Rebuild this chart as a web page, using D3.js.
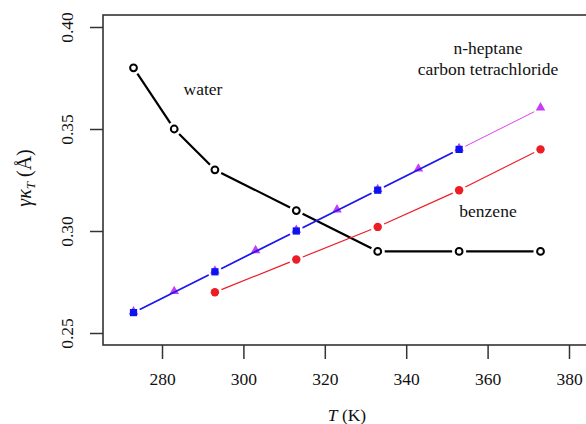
<!DOCTYPE html>
<html>
<head>
<meta charset="utf-8" />
<title>gamma kappa_T vs temperature</title>
<script src="https://d3js.org/d3.v7.min.js"></script>
<style>
  body { margin: 0; background: #fff; }
  svg { display: block; font-family: "Liberation Serif", "DejaVu Serif", serif; }
</style>
</head>
<body>
<div id="chart"></div>
<script>
// temperatures (K) and values for each liquid
var waterT = [273, 283, 293, 313, 333, 353, 373];
var waterV = [0.38, 0.35, 0.33, 0.31, 0.29, 0.29, 0.29];

var heptaneT = [273, 283, 293, 303, 313, 323, 333, 343, 353, 373];
var heptaneV = [0.26, 0.27, 0.28, 0.29, 0.30, 0.31, 0.32, 0.33, 0.34, 0.36];

var ccl4T = [273, 293, 313, 333, 353];
var ccl4V = [0.26, 0.28, 0.30, 0.32, 0.34];

var benzeneT = [293, 313, 333, 353, 373];
var benzeneV = [0.27, 0.286, 0.302, 0.32, 0.34];

var xTicks = [280, 300, 320, 340, 360, 380];
var yTicks = [0.25, 0.30, 0.35, 0.40];

var width = 586, height = 424;
var boxLeft = 103, boxTop = 15, boxBottom = 345, boxRight = 592;
var serif = "Liberation Serif";

var x = d3.scaleLinear().domain([280, 380]).range([162, 569]);
var y = d3.scaleLinear().domain([0.25, 0.40]).range([333, 27]);

var svg = d3.select("#chart").append("svg")
  .attr("width", width)
  .attr("height", height);

function zip(ts, vs) {
  return ts.map(function (t, i) { return { x: x(t), y: y(vs[i]) }; });
}

// R style type="b": segments stop short of each point
function gappedLines(g, pts, gap, color, lw) {
  for (var i = 0; i < pts.length - 1; i++) {
    var a = pts[i], b = pts[i + 1];
    var dx = b.x - a.x, dy = b.y - a.y;
    var len = Math.sqrt(dx * dx + dy * dy);
    if (len <= 2 * gap) continue;
    var ux = dx / len, uy = dy / len;
    g.append("line")
      .attr("x1", a.x + ux * gap).attr("y1", a.y + uy * gap)
      .attr("x2", b.x - ux * gap).attr("y2", b.y - uy * gap)
      .attr("stroke", color)
      .attr("stroke-width", lw);
  }
}

// axes
var xAxis = d3.axisBottom(x).tickValues(xTicks).tickSize(14).tickPadding(14)
  .tickFormat(d3.format("d"));
var gx = svg.append("g").attr("transform", "translate(0," + boxBottom + ")").call(xAxis);
gx.attr("font-family", serif);
gx.select(".domain").remove();
gx.selectAll("line").attr("stroke", "#333").attr("stroke-width", 1.5);
gx.selectAll("text").attr("font-size", 17.5).attr("fill", "#111");

var yAxis = d3.axisLeft(y).tickValues(yTicks).tickSize(13).tickPadding(0)
  .tickFormat(d3.format(".2f"));
var gy = svg.append("g").attr("transform", "translate(" + boxLeft + ",0)").call(yAxis);
gy.attr("font-family", serif);
gy.select(".domain").remove();
gy.selectAll("line").attr("stroke", "#333").attr("stroke-width", 1.5);
gy.selectAll("text")
  .attr("font-size", 17.5).attr("fill", "#111")
  .attr("x", null)
  .attr("text-anchor", "middle")
  .attr("transform", "translate(-36,0) rotate(-90)")
  .attr("dy", "0.35em");

// frame
svg.append("rect")
  .attr("x", boxLeft).attr("y", boxTop)
  .attr("width", boxRight - boxLeft).attr("height", boxBottom - boxTop)
  .attr("fill", "none").attr("stroke", "#333").attr("stroke-width", 1.6);

var plot = svg.append("g");

// water
var wp = zip(waterT, waterV);
gappedLines(plot, wp, 7, "#000", 2.2);
plot.selectAll(".water").data(wp).join("circle")
  .attr("cx", d => d.x).attr("cy", d => d.y).attr("r", 3.4)
  .attr("fill", "#fff").attr("stroke", "#000").attr("stroke-width", 2);

// benzene
var bp = zip(benzeneT, benzeneV);
gappedLines(plot, bp, 7, "#ee1c24", 1.2);
plot.selectAll(".benz").data(bp).join("circle")
  .attr("cx", d => d.x).attr("cy", d => d.y).attr("r", 4.2)
  .attr("fill", "#ee1c24");

// n-heptane
var hp = zip(heptaneT, heptaneV);
gappedLines(plot, hp, 7, "#e040f0", 1.0);
var tri = d3.symbol().type(d3.symbolTriangle).size(40);
plot.selectAll(".hept").data(hp).join("path")
  .attr("d", tri)
  .attr("transform", d => "translate(" + d.x + "," + (d.y - 1) + ")")
  .attr("fill", "#c83cf5");

// carbon tetrachloride, drawn over n-heptane
var cp = zip(ccl4T, ccl4V);
gappedLines(plot, cp, 7, "#1a1aee", 1.7);
plot.selectAll(".ccl4").data(cp).join("rect")
  .attr("x", d => d.x - 3.6).attr("y", d => d.y - 3.6)
  .attr("width", 7.2).attr("height", 7.2)
  .attr("fill", "#0a14f0");

// series labels
var labels = svg.append("g").attr("font-family", serif).attr("font-size", 17.5)
  .attr("fill", "#111").attr("text-anchor", "middle");
labels.append("text").attr("x", 203).attr("y", 95).text("water");
labels.append("text").attr("x", 488).attr("y", 54).text("n-heptane");
labels.append("text").attr("x", 488).attr("y", 75).text("carbon tetrachloride");
labels.append("text").attr("x", 488).attr("y", 217).text("benzene");

// axis titles
var xt = svg.append("text").attr("x", 347).attr("y", 421).attr("text-anchor", "middle")
  .attr("font-family", serif).attr("font-size", 17.5).attr("fill", "#111");
xt.append("tspan").attr("font-style", "italic").text("T");
xt.append("tspan").text(" (K)");

var yt = svg.append("text").attr("transform", "translate(31,178) rotate(-90)")
  .attr("font-family", serif)
  .attr("text-anchor", "middle").attr("font-size", 20).attr("fill", "#111");
yt.append("tspan").attr("font-style", "italic").text("γκ");
yt.append("tspan").attr("font-style", "italic").attr("font-size", 13).attr("dy", 4).text("T");
yt.append("tspan").attr("dy", -4).text(" (Å)");
</script>
</body>
</html>
